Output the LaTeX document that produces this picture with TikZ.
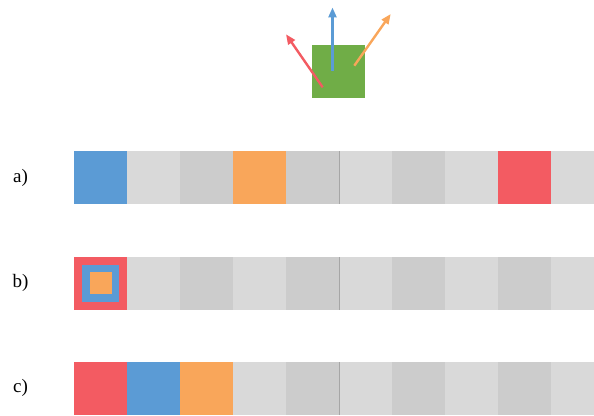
\documentclass[tikz,border=0pt]{standalone}
\usepackage{fontspec}
\setmainfont{Liberation Serif}
\usetikzlibrary{arrows.meta,positioning}

\definecolor{cblue}{HTML}{5B9BD5}
\definecolor{corange}{HTML}{F9A65A}
\definecolor{cred}{HTML}{F35B62}
\definecolor{cgreen}{HTML}{70AD47}
\definecolor{clight}{HTML}{D9D9D9}
\definecolor{cdark}{HTML}{CCCCCC}
\definecolor{csep}{HTML}{A6A6A6}

\tikzset{
  cell/.style={minimum size=53pt,inner sep=0pt,outer sep=0pt,anchor=south west},
  rowlabel/.style={font=\fontsize{19}{22}\selectfont,inner sep=0pt},
  vec/.style={line width=2.4pt,-{Triangle[length=10pt,width=8pt]}},
  sepline/.style={csep,line width=1pt}
}

\begin{document}
\begin{tikzpicture}[x=1pt,y=1pt]
  \useasboundingbox (0,0) rectangle (594,415);
  % agent with its moves
  \node[fill=cgreen,minimum size=53pt,inner sep=0pt,anchor=south west] (agent) at (312,317) {};
  \coordinate (bs) at (332.5,344);  \coordinate (bt) at (332.5,407.5);
  \coordinate (rs) at (322.7,327.7);\coordinate (rt) at (286,380.7);
  \coordinate (os) at (354.3,349.3);\coordinate (ot) at (390.7,401);
  \draw[vec,cred] (rs) -- (rt);
  \draw[vec,cblue] (bs) -- (bt);
  \draw[vec,corange] (os) -- (ot);

  \begin{scope}
    \clip (0,0) rectangle (594,415);
    % a)
    \foreach \c [count=\i from 0] in {cblue,clight,cdark,corange,cdark,clight,cdark,clight,cred,clight}
      \node[cell,fill=\c] (a\i) at ({74+53*\i},211) {};
    % b)
    \foreach \c [count=\i from 0] in {cred,clight,cdark,clight,cdark,clight,cdark,clight,cdark,clight}
      \node[cell,fill=\c] (b\i) at ({74+53*\i},105) {};
    \node[fill=cblue,minimum size=37.5pt,inner sep=0pt] (bin) at (b0.center) {};
    \node[fill=corange,minimum size=22pt,inner sep=0pt] (bcore) at (bin.center) {};
    % c)
    \foreach \c [count=\i from 0] in {cred,cblue,corange,clight,cdark,clight,cdark,clight,cdark,clight}
      \node[cell,fill=\c] (c\i) at ({74+53*\i},0) {};
  \end{scope}

  \foreach \r in {a,b,c}
    \draw[sepline] (\r5.south west) -- (\r5.north west);

  \node[rowlabel] (la) at (20.5,237) {a)};
  \node[rowlabel] (lb) at (20.5,132) {b)};
  \node[rowlabel] (lc) at (20.5,27) {c)};
\end{tikzpicture}
\end{document}
